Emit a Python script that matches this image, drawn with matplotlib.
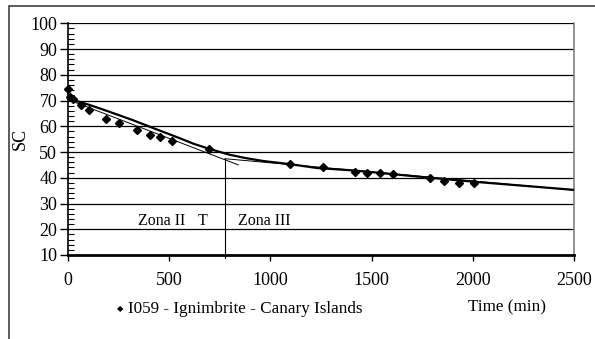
import matplotlib
matplotlib.use("Agg")
import matplotlib.pyplot as plt
from matplotlib.patches import Rectangle
from matplotlib.ticker import MultipleLocator

# medidas (pontos experimentais)
t_obs = [0, 10, 25, 61, 101, 188, 252, 341, 404, 454, 515, 694, 1095,
         1258, 1417, 1479, 1540, 1608, 1789, 1860, 1933, 2005]
sc_obs = [74.5, 71.5, 70.7, 68.3, 66.2, 63.0, 61.4, 58.7, 56.8, 55.8, 54.4,
          51.1, 45.5, 44.1, 42.1, 41.9, 42.0, 41.6, 40.0, 38.9, 38.1, 38.1]

# curva ajustada
t_fit = [0, 33, 100, 157, 240, 322, 400, 487, 553, 620, 694, 800, 880,
         965, 1095, 1229, 1380, 1500, 1750, 2000, 2250, 2500]
sc_fit = [71.0, 70.0, 68.4, 66.9, 64.6, 62.3, 59.9, 57.3, 55.3, 53.2, 51.3,
          48.9, 47.6, 46.5, 45.3, 43.8, 43.0, 42.2, 40.3, 38.5, 36.9, 35.3]

# retas das zonas II e III
t_zona2 = [10, 841]
sc_zona2 = [70.0, 45.0]
t_zona3 = [775, 2500]
sc_zona3 = [47.4, 35.2]
t_T = 775

fig = plt.figure(figsize=(5.95, 3.39), dpi=100)
plt.rcParams['font.family'] = ['Liberation Serif', 'DejaVu Serif']
ax = fig.add_axes([0.1148, 0.2478, 0.8494, 0.6835])

# moldura da figura
fig.patches.append(Rectangle((9 / 595, -0.05), 1.2, 1.05 - 5.7 / 339,
                             transform=fig.transFigure, fill=False,
                             edgecolor="#404040", linewidth=1.2))

for y in range(20, 101, 10):
    ax.axhline(y, color="black", linewidth=0.9, zorder=1)

ax.plot(t_zona2, sc_zona2, color="black", linewidth=0.7, zorder=2)
ax.plot(t_zona3, sc_zona3, color="black", linewidth=0.7, zorder=2)
ax.plot([t_T, t_T], [sc_zona3[0], 8.8], color="black", linewidth=0.8,
        clip_on=False, zorder=2)
ax.plot(t_fit, sc_fit, color="black", linewidth=1.6, zorder=3,
        solid_joinstyle="round")
ax.plot(t_obs, sc_obs, linestyle="none", marker="D", markersize=4,
        color="black", zorder=4, clip_on=False)

ax.set_xlim(0, 2500)
ax.set_ylim(10, 100)
ax.set_xticks([0, 500, 1000, 1500, 2000, 2500])
ax.set_yticks(range(10, 101, 10))
ax.yaxis.set_minor_locator(MultipleLocator(2))
ax.tick_params(axis="x", direction="out", length=4, width=1, labelsize=13,
               pad=8)
ax.tick_params(axis="y", which="major", direction="out", length=6, width=1,
               labelsize=13, pad=2)
ax.tick_params(axis="y", which="minor", direction="in", length=4, width=0.8)

ax.spines["top"].set_visible(False)
ax.spines["right"].set_color("#808080")
ax.spines["right"].set_linewidth(1.2)
ax.spines["left"].set_linewidth(1.2)
ax.spines["bottom"].set_linewidth(2)

ax.set_ylabel("SC", fontsize=13, labelpad=1)

ax.text(345, 20.0, "Zona II", fontsize=11.5, ha="left", va="bottom")
ax.text(665, 20.0, "T", fontsize=11.5, ha="center", va="bottom")
ax.text(838, 20.0, "Zona III", fontsize=11.5, ha="left", va="bottom")

fig.text(120 / 595, 1 - 309 / 339, "\u25c6", fontsize=6, ha="center",
         va="center", family=["DejaVu Sans"])
fig.text(128 / 595, 1 - 309 / 339, "I059 - Ignimbrite - Canary Islands",
         fontsize=12.3, ha="left", va="center")
fig.text(507 / 595, 1 - 307 / 339, "Time (min)", fontsize=12.3,
         ha="center", va="center")

fig.savefig("out.png", dpi=100)
